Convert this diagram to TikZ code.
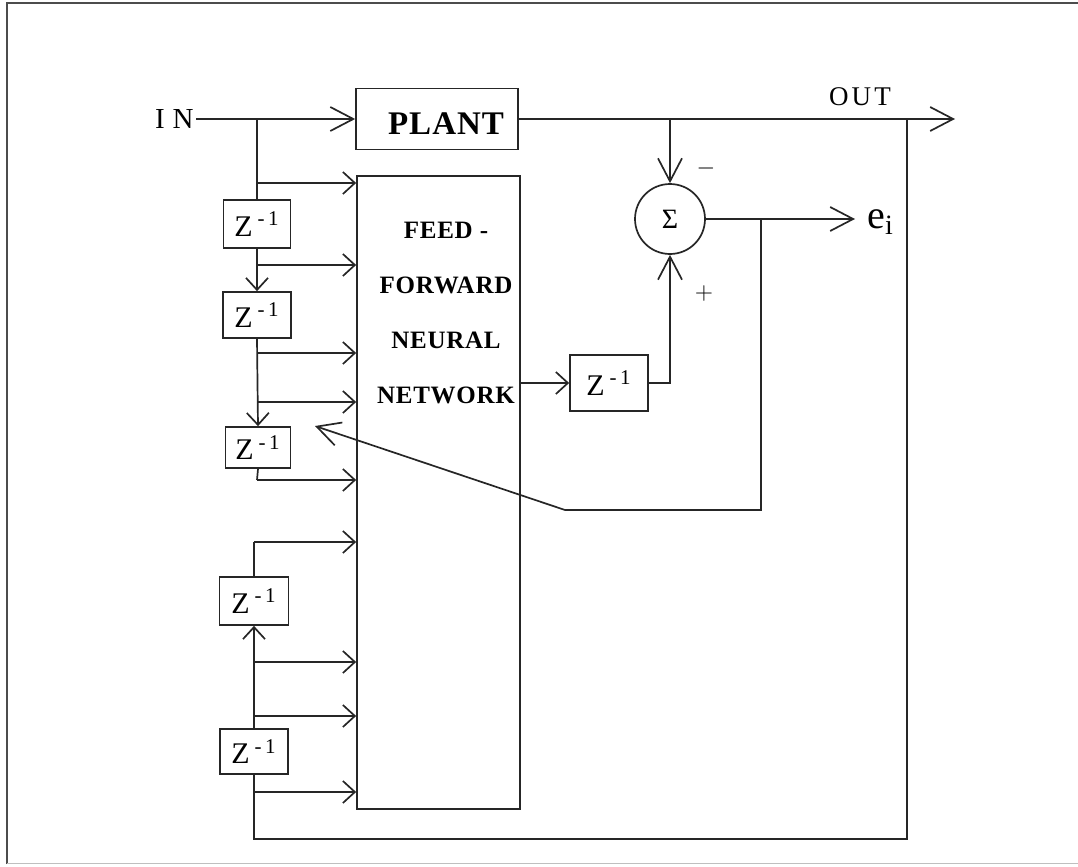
\documentclass[tikz,border=0pt]{standalone}
\usepackage{fontspec}
\setmainfont{Liberation Serif}
\newfontfamily\spacedbold[LetterSpace=3]{Liberation Serif}
\newfontfamily\plantfont[LetterSpace=3]{Liberation Serif}
\newfontfamily\outfont[LetterSpace=12]{Liberation Serif}
\usetikzlibrary{arrows.meta}
\tikzset{
  wire/.style={line width=0.85pt, draw=black!85},
  big/.style={wire, -{Straight Barb[length=11.5pt,width=12pt,line width=0.85pt]}},
  small/.style={wire, -{Straight Barb[length=6pt,width=11pt,line width=0.85pt]}},
  blk/.style={draw=black!85, line width=0.85pt, inner sep=0pt, rectangle},
  zbox/.style={blk, font=\fontsize{15}{16}\selectfont},
  lbl/.style={inner sep=1pt},
}
\newcommand{\zinv}{Z\,\textsuperscript{-\,1}}
\begin{document}
\begin{tikzpicture}[x=0.5pt,y=-0.5pt]
\useasboundingbox (0,0) rectangle (1078,867);
% frame
\draw[black!70, line width=1pt] (7,864) -- (7,3) -- (1078,3);
\draw[black!25, line width=0.5pt] (7,863) -- (1078,863);

% blocks
\node[blk, minimum width=81pt, minimum height=30.5pt] (plant) at (437,119) {};
\node[lbl, font=\plantfont\bfseries\fontsize{16.5}{18}\selectfont] (planttxt) at (446,124) {PLANT};
\node[blk, minimum width=81.5pt, minimum height=316.5pt] (ffnn) at (438.5,492.5) {};
\node[lbl, align=center, font=\spacedbold\bfseries\fontsize{12.5}{27.5}\selectfont] (nntxt) at (446,313) {FEED -\\FORWARD\\NEURAL\\NETWORK};

\node[zbox, minimum width=33.5pt, minimum height=24pt] (z1) at (257,224) {\zinv};
\node[zbox, minimum width=34pt, minimum height=23pt] (z2) at (257,315) {\zinv};
\node[zbox, minimum width=32.5pt, minimum height=20.5pt] (z3) at (258,447.5) {\zinv};
\node[zbox, minimum width=34.5pt, minimum height=24pt] (z4) at (254,601) {\zinv};
\node[zbox, minimum width=34pt, minimum height=22.5pt] (z5) at (254,751.5) {\zinv};
\node[zbox, minimum width=39pt, minimum height=28pt] (z6) at (609,383) {\zinv};

\node[draw=black!85, line width=0.85pt, circle, minimum size=35pt, inner sep=0pt, font=\fontsize{14}{15}\selectfont] (sum) at (670,219) {Σ};

% labels
\node[lbl, font=\fontsize{14.5}{16}\selectfont, anchor=east] (in) at (196,119) {I\hspace{4pt}N};
\node[lbl, font=\outfont\fontsize{13.5}{16}\selectfont] (out) at (860,97) {OUT};
\node[lbl, font=\fontsize{13}{14}\selectfont] (minus) at (706,168) {$-$};
\node[lbl, font=\fontsize{12}{14}\selectfont] (plus) at (704,293) {$+$};

% coordinates
\coordinate (jin) at (257,119);
\coordinate (jsum) at (670,119);
\coordinate (jout) at (907,119);
\coordinate (outend) at (955,119);
\coordinate (eiend) at (855,219);
\coordinate (jfb) at (761,219);
\coordinate (fb1) at (761,510);
\coordinate (fb2) at (565,510);
\coordinate (fbtip) at (315,426);
\coordinate (b1) at (257,183);
\coordinate (b2) at (257,265);
\coordinate (b3) at (257,353);
\coordinate (b4) at (257,402);
\coordinate (b5) at (257,480);
\coordinate (b6) at (254,542);
\coordinate (b7) at (254,662);
\coordinate (b8) at (254,716);
\coordinate (b9) at (254,792);
\coordinate (bl) at (254,839);
\coordinate (br) at (907,839);

\node[lbl, anchor=west, font=\fontsize{20}{21}\selectfont] (ei) at ([xshift=5pt,yshift=-1.5pt]eiend) {e\textsubscript{i}};

% main path
\draw[big] (in.east) -- (in.east -| plant.west);
\draw[big] (plant.east) -- (outend);
\draw[big] (jsum) -- (sum.north);
\draw[big] (sum.east) -- (eiend);
\draw[big] (z6.east) -| (sum.south);
\draw[small] (z6.west -| ffnn.east) -- (z6.west);
\draw[big] (jfb) -- (fb1) -- (fb2) -- (fbtip);

% upper delay chain
\draw[wire] (jin) -- (z1.north);
\draw[small] (z1.south) -- (z2.north);
\draw[small] (z2.south) -- (z3.north);
\draw[wire] (z3.south) -- (b5);
\foreach \b in {b1,b2,b3,b4,b5} \draw[small] (\b) -- (\b -| ffnn.west);

% lower delay chain
\draw[wire] (z4.north) -- (b6);
\draw[small] (z5.north) -- (z4.south);
\draw[wire] (z5.south) -- (bl) -- (br) -- (jout);
\foreach \b in {b6,b7,b8,b9} \draw[small] (\b) -- (\b -| ffnn.west);
\end{tikzpicture}
\end{document}
